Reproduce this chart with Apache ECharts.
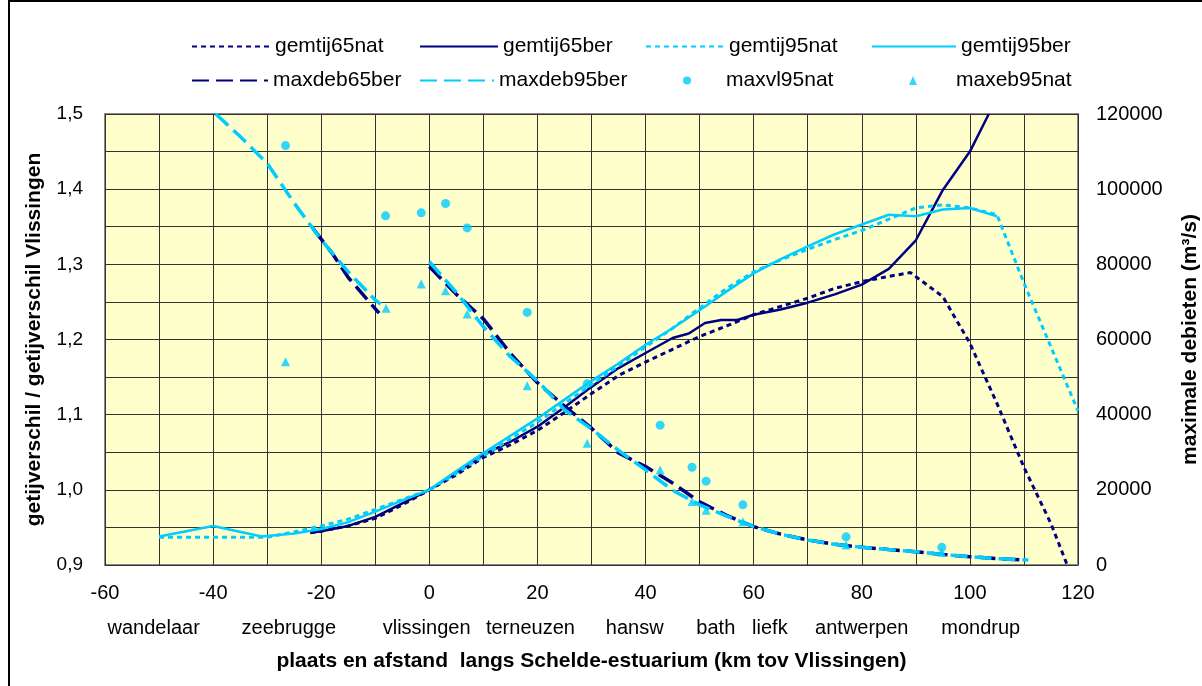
<!DOCTYPE html>
<html>
<head>
<meta charset="utf-8">
<script src="https://cdn.jsdelivr.net/npm/echarts@6/dist/echarts.min.js"></script>
<style>html,body{margin:0;padding:0;background:#fff;overflow:hidden}#c{width:1202px;height:686px}</style>
</head>
<body>
<div id="c"></div>
<script>
// ---- data (km along Schelde, relative to Vlissingen) ----
const gem65nat_km  = [-22,-20,-15,-10,-5,0,5,10,15,20,25,30,35,40,45,50,55,60,65,70,75,80,85,89,95,100,105,110,115,118];
const gem65nat_val = [0.943,0.945,0.952,0.962,0.98,1.0,1.02,1.043,1.06,1.079,1.103,1.128,1.152,1.17,1.187,1.204,1.218,1.233,1.244,1.255,1.268,1.277,1.284,1.289,1.257,1.195,1.115,1.03,0.955,0.9];

const gem65ber_km  = [-22,-20,-15,-10,-5,0,5,10,15,20,25,30,35,40,45,48,51,54,57,60,65,70,75,80,85,90,95,100,103.5];
const gem65ber_val = [0.943,0.945,0.952,0.964,0.982,1.0,1.023,1.047,1.064,1.084,1.11,1.137,1.162,1.182,1.202,1.208,1.222,1.226,1.226,1.233,1.24,1.249,1.26,1.273,1.294,1.332,1.399,1.45,1.5];

const gem95nat_km  = [-50,-40,-30,-25,-20,-15,-10,-5,0,5,10,15,20,25,30,35,40,45,50,55,60,65,70,75,80,85,90,95,100,105,110,115,120];
const gem95nat_val = [0.937,0.937,0.937,0.944,0.952,0.961,0.974,0.987,1.0,1.022,1.045,1.068,1.09,1.115,1.14,1.165,1.19,1.215,1.242,1.268,1.29,1.306,1.32,1.333,1.345,1.36,1.375,1.379,1.375,1.366,1.275,1.19,1.105];

const gem95ber_km  = [-50,-40,-31,-25,-20,-15,-10,-5,0,5,10,15,20,25,30,35,40,45,50,55,60,65,70,75,80,85,90,95,100,105];
const gem95ber_val = [0.938,0.952,0.938,0.942,0.948,0.957,0.971,0.986,1.0,1.025,1.049,1.072,1.095,1.12,1.145,1.168,1.193,1.215,1.239,1.264,1.288,1.307,1.324,1.34,1.353,1.366,1.364,1.373,1.375,1.364];

const deb65_seg1_km = [-21.5,-18,-15,-12,-9.3];
const deb65_seg1_q  = [89500,83000,76500,71500,67000];
const deb65_seg2_km = [0,5,10,15,20,25,30,35,40,45,50,55,60,65,70,75,80,85,90,95,100,105,110];
const deb65_seg2_q  = [79400,72000,65500,56300,48500,42300,36400,29800,26200,21800,16800,13200,10200,8200,6650,5500,4700,4100,3550,2800,2200,1700,1300];

const deb95_seg1_km = [-39.5,-35,-30,-25,-20,-15,-10,-9];
const deb95_seg1_q  = [120000,114000,106900,96300,86500,78000,70500,69400];
const deb95_seg2_km = [0,5,10,15,20,25,30,35,40,45,50,55,60,65,70,75,80,85,90,95,100,105,110.8];
const deb95_seg2_q  = [80700,72500,63400,55400,49000,41300,36200,30500,25300,19900,16000,13000,10200,8200,6650,5500,4700,4100,3550,2800,2200,1700,1300];

const vl95nat_km = [-26.6,-8.1,-1.5,3.0,7.0,18.1,29.2,42.7,48.6,51.2,58.0,77.1,94.8];
const vl95nat_q  = [111600,92900,93700,96200,89700,67200,48200,37200,26000,22300,16000,7500,4700];

const eb95nat_km = [-26.6,-8.0,-1.5,3.0,7.0,18.1,29.2,42.7,48.6,51.2,58.0,77.1,94.8];
const eb95nat_q  = [54100,68300,74800,73000,66800,47700,32400,25300,16900,14600,11500,5300,3400];

const places    = ['wandelaar','zeebrugge','vlissingen','terneuzen','hansw','bath','liefk','antwerpen','mondrup'];
const places_km = [-51,-26,-0.5,18.7,38,53,63,80,102];

const xTicks = {min:-60, max:120, step:10, labelStep:20};
const yLeft  = {min:0.9, max:1.5, step:0.05};
const yRight = {min:0, max:120000, step:10000, labelStep:20000};

// ---- helpers ----
const zip = (a,b) => a.map((v,i)=>[v,b[i]]);
const segs = (a,b) => zip(a[0],b[0]).concat([[ (a[0][a[0].length-1]+a[1][0])/2, '-' ]]).concat(zip(a[1],b[1]));

const NAVY = '#000080', CYAN = '#00CCFF';
const FONT = "'Liberation Sans', Arial, sans-serif";

const chart = echarts.init(document.getElementById('c'), null, {renderer:'canvas', width:1202, height:686});

const lineS = (name, data, color, width, type, yIdx) => ({
  name, type:'line', data, yAxisIndex:yIdx, symbol:'none', showSymbol:false,
  connectNulls:false, lineStyle:{color, width, type}, itemStyle:{color}, z:3
});

const legendBase = (name, left, top, w, extra) => Object.assign({
  data:[name], left, top, itemWidth:w, itemHeight:12, selectedMode:false,
  itemStyle:{opacity:0},
  textStyle:{fontFamily:FONT, fontSize:21, color:'#000'}
}, extra||{});

const option = {
  animation:false,
  backgroundColor:'#fff',
  textStyle:{fontFamily:FONT},
  grid:{left:105, right:124, top:114, bottom:121, show:true, backgroundColor:'#FFFFCC', borderColor:'#888', borderWidth:2,
        containLabel:false, outerBoundsMode:'none'},
  legend:[
    legendBase('gemtij65nat',186,31,78),
    legendBase('gemtij65ber',414,31,78),
    legendBase('gemtij95nat',640,31,78),
    legendBase('gemtij95ber',866,31,84),
    legendBase('maxdeb65ber',186,65,76),
    legendBase('maxdeb95ber',414,65,74),
    legendBase('maxvl95nat',678,65,8,{itemHeight:8, itemStyle:{}, textStyle:{fontFamily:FONT,fontSize:21,color:'#000',padding:[0,0,0,30]}}),
    legendBase('maxeb95nat',904,65,8,{itemHeight:9, itemStyle:{}, textStyle:{fontFamily:FONT,fontSize:21,color:'#000',padding:[0,0,0,34]}})
  ],
  xAxis:{
    type:'value', min:xTicks.min, max:xTicks.max, interval:xTicks.step,
    name:'plaats en afstand  langs Schelde-estuarium (km tov Vlissingen)',
    nameLocation:'middle', nameGap:86,
    nameTextStyle:{fontFamily:FONT, fontSize:21, fontWeight:'bold', color:'#000'},
    axisLine:{show:false}, axisTick:{show:false},
    axisLabel:{margin:18, fontFamily:FONT, fontSize:20, color:'#000',
      formatter:v => (Math.round(v) % xTicks.labelStep === 0) ? String(Math.round(v)) : ''},
    splitLine:{show:true, lineStyle:{color:'#333', width:1}}
  },
  yAxis:[
    {
      type:'value', min:yLeft.min, max:yLeft.max, interval:yLeft.step, position:'left',
      name:'getijverschil / getijverschil Vlissingen', nameLocation:'middle', nameGap:60, nameRotate:90,
      nameTextStyle:{fontFamily:FONT, fontSize:21, fontWeight:'bold', color:'#000'},
      axisLine:{show:false}, axisTick:{show:false},
      axisLabel:{margin:22, fontFamily:FONT, fontSize:19, color:'#000',
        formatter:v => (Math.round(v*100) % 10 === 0) ? v.toFixed(1).replace('.',',') : ''},
      splitLine:{show:true, lineStyle:{color:'#333', width:1}}
    },
    {
      type:'value', min:yRight.min, max:yRight.max, interval:yRight.step, position:'right',
      name:'maximale debieten (m³/s)', nameLocation:'middle', nameGap:102, nameRotate:90,
      nameTextStyle:{fontFamily:FONT, fontSize:21, fontWeight:'bold', color:'#000'},
      axisLine:{show:false}, axisTick:{show:false},
      axisLabel:{margin:18, fontFamily:FONT, fontSize:20, color:'#000',
        formatter:v => (Math.round(v) % yRight.labelStep === 0) ? String(Math.round(v)) : ''},
      splitLine:{show:false}
    }
  ],
  series:[
    lineS('gemtij65nat', zip(gem65nat_km, gem65nat_val), NAVY, 3, [5,4], 0),
    lineS('gemtij65ber', zip(gem65ber_km, gem65ber_val), NAVY, 2.5, 'solid', 0),
    lineS('gemtij95nat', zip(gem95nat_km, gem95nat_val), CYAN, 3, [5,4], 0),
    lineS('gemtij95ber', zip(gem95ber_km, gem95ber_val), CYAN, 2.5, 'solid', 0),
    lineS('maxdeb65ber', segs([deb65_seg1_km,deb65_seg2_km],[deb65_seg1_q,deb65_seg2_q]), NAVY, 3.5, [17,7], 1),
    lineS('maxdeb95ber', segs([deb95_seg1_km,deb95_seg2_km],[deb95_seg1_q,deb95_seg2_q]), CYAN, 3.5, [17,7], 1),
    {name:'maxvl95nat', type:'scatter', yAxisIndex:1, symbol:'circle', symbolSize:9,
      itemStyle:{color:CYAN}, data:zip(vl95nat_km, vl95nat_q), z:4},
    {name:'maxeb95nat', type:'scatter', yAxisIndex:1, symbol:'triangle', symbolSize:9,
      itemStyle:{color:CYAN}, data:zip(eb95nat_km, eb95nat_q), z:4}
  ]
};
chart.setOption(option);

// place names under the x axis, positioned through the x scale
const placeY = 628;
const graphics = places.map((p,i) => ({
  type:'text', silent:true,
  x: chart.convertToPixel({xAxisIndex:0}, places_km[i]), y: placeY,
  style:{text:p, fill:'#000', font:"20px " + FONT, textAlign:'center', textVerticalAlign:'middle'}
}));
graphics.push({type:'rect', silent:true, shape:{x:9, y:1, width:1400, height:1400},
  style:{fill:null, stroke:'#000', lineWidth:2}});
chart.setOption({graphic:graphics});
</script>
</body>
</html>
